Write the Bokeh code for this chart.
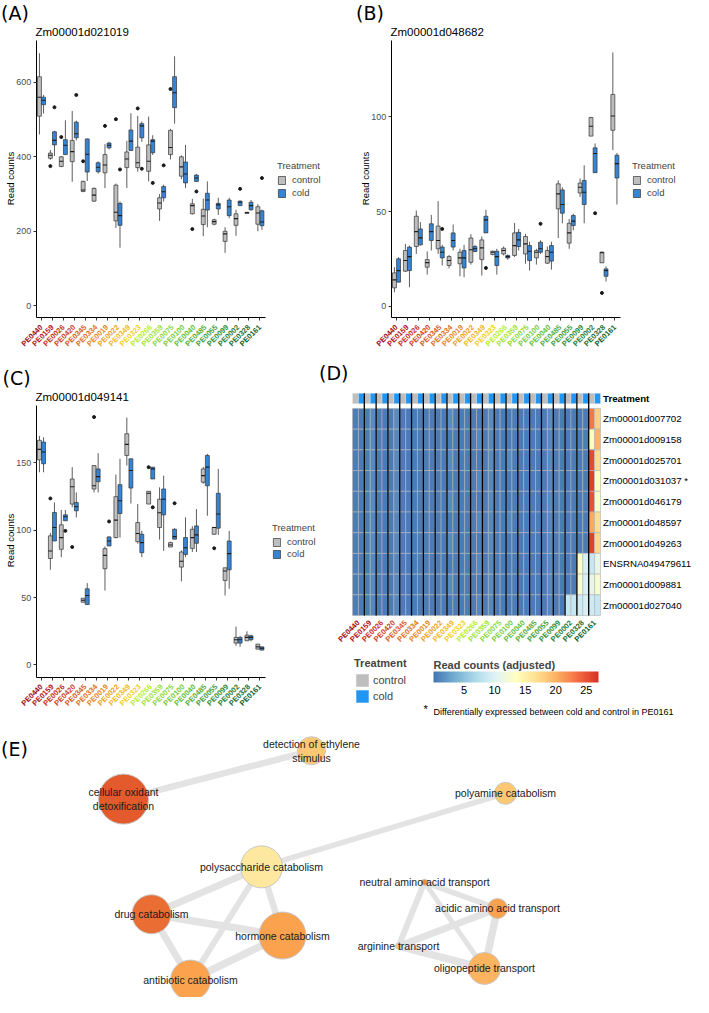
import math
from bokeh.plotting import figure
from bokeh.layouts import column, row
from bokeh.models import (Range1d, FixedTicker, Legend, LegendItem, ColorBar,
                          LinearColorMapper, ColumnDataSource, CustomJSTickFormatter)
from bokeh.core.properties import value
from bokeh.embed import file_html
from bokeh.resources import INLINE

# ------------------------------------------------------------------ data
GENOTYPES = ["PE0440", "PE0159", "PE0026", "PE0420", "PE0345", "PE0334", "PE0019",
             "PE0022", "PE0349", "PE0323", "PE0266", "PE0359", "PE0075", "PE0100",
             "PE0040", "PE0485", "PE0055", "PE0099", "PE0002", "PE0328", "PE0161"]
TREATMENTS = ["control", "cold"]

# box statistics per genotype: (lower whisker, Q1, median, Q3, upper whisker)
A_GENE = "Zm00001d021019"
A_CONTROL = [(460, 509, 560, 615, 678), (392, 396, 404, 410, 418), (372, 374, 388, 400, 402),
             (333, 387, 414, 444, 523), (305, 307, 311, 334, 336), (279, 281, 297, 315, 318),
             (316, 357, 378, 406, 434), (209, 228, 251, 324, 328), (316, 371, 394, 413, 443),
             (360, 371, 384, 426, 510), (334, 361, 388, 432, 508), (228, 260, 276, 290, 300),
             (393, 406, 425, 471, 475), (340, 348, 373, 400, 404), (245, 247, 269, 274, 287),
             (187, 218, 241, 259, 288), (216, 219, 226, 231, 234), (142, 173, 193, 200, 211),
             (188, 216, 234, 247, 258), (248, 248, 250, 251, 252), (200, 219, 249, 266, 273)]
A_COLD = [(516, 540, 552, 560, 566), (402, 432, 444, 467, 470), (405, 406, 431, 446, 498),
          (444, 451, 462, 493, 497), (335, 359, 407, 448, 449), (355, 360, 372, 384, 388),
          (420, 424, 431, 437, 440), (156, 216, 242, 275, 280), (417, 417, 442, 472, 517),
          (440, 451, 483, 489, 495), (405, 411, 442, 446, 458), (280, 290, 306, 320, 325),
          (489, 532, 572, 615, 670), (316, 330, 354, 386, 432), (334, 334, 343, 351, 354),
          (211, 257, 284, 302, 334), (244, 260, 271, 275, 290), (235, 242, 266, 284, 290),
          (269, 269, 278, 281, 283), (255, 258, 269, 278, 284), (204, 215, 225, 255, 258)]
A_CONTROL_OUT = [(2, 375), (3, 453), (5, 388), (7, 483), (8, 501), (10, 530), (13, 582), (15, 206)]
A_COLD_OUT = [(2, 533), (4, 566), (8, 366), (10, 368), (11, 330), (12, 377), (15, 307), (19, 314), (21, 343)]
A_YTICKS = [0, 200, 400, 600]

B_GENE = "Zm00001d048682"
B_CONTROL = [(7.4, 9.7, 13.9, 17.6, 20.6), (18, 18.5, 24.1, 29.4, 32.9), (27.6, 31.5, 39.4, 47.5, 50.5),
             (16.7, 20.6, 23, 24.6, 28.9), (27.6, 30.3, 34.7, 42.3, 55.5), (20, 21.5, 24.1, 26.2, 27),
             (15.8, 22.4, 25.5, 28.5, 30.3), (22, 23.2, 29.8, 36, 38), (16.2, 24.6, 30.8, 35, 36.8),
             (26.8, 27.3, 28.5, 29, 29.4), (26.8, 27.6, 29.4, 30.6, 31.5), (26, 26.8, 32, 38.7, 44),
             (22.4, 27.6, 32.9, 36.8, 38.2), (22, 25.5, 28.5, 29.4, 30.3), (22.4, 22.7, 26.2, 29.4, 31.5),
             (36, 51.4, 59.3, 64.6, 66.4), (30.3, 33.3, 38.7, 43.8, 46), (57.7, 59.8, 62.8, 65, 67.4),
             (89.8, 89.8, 95, 99.6, 100), (22.9, 22.9, 28.2, 28.5, 29), (82.4, 92.9, 100.4, 111.8, 134)]
B_COLD = [(12.7, 12.7, 18.8, 25, 25.9), (10, 18.8, 26.2, 31.2, 32), (32, 32.4, 36.1, 40.8, 44.4),
          (29.4, 34.7, 39.4, 43.5, 48.2), (21.5, 25.5, 28.5, 31.2, 32.4), (29.4, 31.2, 34.7, 38.7, 43.1),
          (15.3, 20.2, 25.5, 29.4, 32.4), (28.5, 28.9, 30.3, 31.5, 32.4), (38.7, 38.7, 45.6, 47.5, 50.9),
          (16.7, 21.5, 26.2, 29, 30.3), (24.5, 25.5, 26.2, 26.8, 27.3), (29.4, 31.5, 35, 39, 40.8),
          (18.8, 24.1, 29, 32, 34), (27.6, 28.5, 30.3, 33.8, 34.7), (19.3, 23.8, 28.5, 32, 34),
          (43.8, 49.1, 53.7, 61.4, 62.8), (40, 42.6, 44.9, 47.9, 48.8), (43.8, 53.7, 60.2, 66.4, 74.4),
          (70.5, 70.5, 80.6, 83.6, 85.9), (13, 15.8, 18.8, 19.7, 21), (53.7, 67.7, 75.3, 79.7, 80.9)]
B_CONTROL_OUT = [(20, 7)]
B_COLD_OUT = [(5, 40.8), (9, 20.2), (14, 43.5), (19, 49.1)]
B_YTICKS = [0, 50, 100]

C_GENE = "Zm00001d049141"
C_CONTROL = [(143, 152.2, 160, 166.7, 170), (70.6, 79, 84.6, 95.8, 98), (80, 85.8, 94.5, 104, 115),
             (117, 119.4, 132.3, 138, 146.8), (46.5, 46.5, 48, 49.5, 49.5), (128, 130.6, 133, 148, 148),
             (55.2, 71.4, 81.3, 86.3, 88), (94, 94.5, 107.5, 124.9, 141.3), (148, 155.5, 163.7, 171.6, 183.6),
             (90, 91.5, 97.5, 105.7, 119.4), (119.4, 119.4, 127.4, 128.9, 128.9), (93, 102, 113, 123, 131.8),
             (87.5, 87.5, 89, 90.8, 91.5), (62, 72.6, 77, 83.8, 85), (83.8, 86.5, 94.5, 100.7, 103),
             (134.5, 135.6, 140.5, 145.5, 147), (96.5, 97, 102, 102, 102.5), (51.5, 62.7, 69.7, 72.1, 72.1),
             (14.2, 16.2, 18.7, 20.4, 28.4), (17.9, 17.9, 20.4, 22.1, 25), (11.7, 11.7, 13.4, 15.4, 15.4)]
C_COLD = [(143, 149.3, 158, 165.4, 169), (92, 92, 102, 113.2, 120.6), (107, 107, 110, 111.4, 115),
          (109.5, 114.4, 117.4, 120.6, 128), (44.8, 44.8, 51.5, 56.5, 60.7), (128, 136, 139.8, 145.5, 157.2),
          (88.3, 88.3, 92, 95, 95.5), (94.5, 112.4, 121.9, 133.8, 153), (119.9, 131.3, 144.3, 153, 153),
          (80, 83.3, 90.8, 97, 99.5), (138, 138, 145.5, 146.8, 146.8), (84.6, 111.4, 123, 130.6, 140.5),
          (93.3, 93.3, 95.2, 100.7, 101.5), (80, 82, 87, 94.5, 109.5), (83.8, 90.3, 96.5, 103.2, 115.7),
          (110.7, 133, 146.8, 155.5, 156.7), (96.5, 101.5, 112, 127.4, 145.5), (56.5, 70.6, 82.6, 92, 99.5),
          (13.5, 16.2, 18.7, 20.4, 21.5), (17.5, 18.7, 20.4, 21.6, 22.5), (10.8, 11, 12.4, 13.4, 13.4)]
C_CONTROL_OUT = [(2, 123.6), (4, 87.5), (6, 184), (11, 146.8), (17, 86.6)]
C_COLD_OUT = [(3, 99.5), (7, 106.5), (11, 117), (13, 120)]
C_YTICKS = [0, 50, 100, 150]

# heatmap: adjusted read counts, columns = genotype x (control, cold)
HEAT_GENES = ["Zm00001d007702", "Zm00001d009158", "Zm00001d025701", "Zm00001d031037 *",
              "Zm00001d046179", "Zm00001d048597", "Zm00001d049263", "ENSRNA049479611",
              "Zm00001d009881", "Zm00001d027040"]
HEAT_007702 = [.5, .5, .5, 1.4, .5, .5, .5, 1.4, .5, .5, .5, .5, .5, .5, .5, .5, 1.4, .5, .5, .5, .5,
               .5, .5, 1.4, .5, .5, .5, .5, .5, .5, .5, .5, .5, 1.4, .5, .5, .5, .5, .5, .5, 23, 18]
HEAT_009158 = [.5, .5, .5, 1.2, .5, .5, .5, 1.2, .5, .5, .5, .5, .5, .5, .5, .5, .5, .5, .5, .5, .5,
               1.2, .5, 1.2, .5, .5, .5, .5, .5, .5, .5, .5, .5, 1.2, .5, .5, .5, .5, .5, .5, 13.5, 20]
HEAT_025701 = [.5, .5, .5, 1.3, .5, .5, .5, 1.3, .5, .5, .5, .5, .5, .5, .5, .5, 1.3, .5, .5, .5, .5,
               .5, .5, 1.3, .5, .5, 1.3, .5, .5, .5, .5, .5, .5, 1.3, .5, .5, .5, .5, .5, .5, 25.5, 17]
HEAT_031037 = [.5, .5, .5, 1.2, .5, .5, .5, 1.2, .5, .5, .5, .5, .5, .5, .5, .5, .5, .5, .5, .5, .5,
               1.2, .5, 1.2, .5, .5, .5, .5, .5, .5, .5, .5, .5, 1.2, .5, .5, .5, .5, .5, .5, 26, 13.5]
HEAT_046179 = [.5, .5, .5, 1.3, .5, .5, .5, 1.3, .5, .5, .5, .5, .5, .5, .5, .5, 1.3, .5, .5, .5, .5,
               .5, .5, 1.3, .5, .5, .5, .5, .5, .5, .5, .5, .5, 1.3, .5, .5, .5, .5, .5, .5, 25, 13]
HEAT_048597 = [.5, .5, .5, 1.2, .5, .5, .5, 1.2, .5, .5, .5, .5, .5, .5, .5, .5, .5, .5, .5, .5, .5,
               1.2, .5, 1.2, .5, .5, 1.2, .5, .5, .5, .5, .5, .5, 1.2, .5, .5, .5, .5, .5, .5, 20.5, 17]
HEAT_049263 = [.5, .5, .5, 1.3, .5, .5, .5, 1.3, .5, .5, .5, .5, .5, .5, .5, .5, 1.3, .5, .5, .5, .5,
               .5, .5, 1.3, .5, .5, .5, .5, .5, .5, .5, .5, .5, 1.3, .5, .5, .5, .5, .5, .5, 26, 17.5]
HEAT_ENSRNA = [.5, .5, .5, 1.2, .5, .5, .5, 1.2, .5, .5, .5, .5, .5, .5, .5, .5, .5, .5, .5, .5, .5,
               1.2, .5, 1.2, .5, .5, .5, .5, .5, .5, .5, .5, .5, 1.2, .5, .5, .5, .5, 13, 9.5, 8.5, 11]
HEAT_009881 = [.5, .5, .5, 1.3, .5, .5, .5, 1.3, .5, .5, .5, .5, .5, .5, .5, .5, 1.3, .5, .5, .5, .5,
               .5, .5, 1.3, .5, .5, .5, .5, .5, .5, .5, .5, .5, 1.3, .5, .5, .5, .5, 12.5, 9.5, 11, 12.5]
HEAT_027040 = [.5, .5, .5, 1.2, .5, .5, .5, 1.2, .5, .5, .5, .5, .5, .5, .5, .5, .5, .5, .5, .5, .5,
               1.2, .5, 1.2, .5, .5, .5, .5, .5, .5, .5, .5, .5, 1.2, .5, .5, 8.5, 8.5, 9, 9.5, 9, 8.5]
HEAT_ROWS = [HEAT_007702, HEAT_009158, HEAT_025701, HEAT_031037, HEAT_046179,
             HEAT_048597, HEAT_049263, HEAT_ENSRNA, HEAT_009881, HEAT_027040]
HEAT_TICKS = [5, 10, 15, 20, 25]
HEAT_NOTE = "Differentially expressed between cold and control in PE0161"

# enrichment network
TERMS = ["detection of ethylene\nstimulus", "cellular oxidant\ndetoxification", "polyamine catabolism",
         "polysaccharide catabolism", "neutral amino acid transport", "acidic amino acid transport",
         "drug catabolism", "hormone catabolism", "arginine transport", "oligopeptide transport",
         "antibiotic catabolism"]
TERM_SCORE = [0.25, 0.95, 0.25, 0.0, 0.7, 0.5, 0.85, 0.5, 0.25, 0.38, 0.5]
EDGES = [(0, 1), (3, 2), (3, 6), (3, 7), (3, 10), (6, 7), (6, 10), (7, 10),
         (4, 5), (4, 8), (4, 9), (5, 8), (5, 9), (8, 9)]
EDGE_SIM = [0.65, 0.55, 0.7, 0.65, 0.6, 0.75, 0.7, 0.75, 0.55, 0.6, 0.5, 0.7, 0.75, 0.75]

# ------------------------------------------------------------------ layout / style
NODE_X = [311, 123, 505, 261, 424, 497, 151, 282, 398, 484, 190]
NODE_Y = [757, 807, 801, 877, 893, 920, 926, 948, 959, 982, 994]
NODE_R = [14, 25, 11, 21, 3, 10, 19.5, 23.5, 3, 16, 20]

LABEL_COLORS = ["#9b0d0d", "#b5141a", "#c62d1e", "#d1431f", "#d95a1f", "#df7120", "#e6881f",
                "#eca11f", "#f1b91e", "#f4d01c", "#b7ef2b", "#a0e43a", "#8ad93d", "#76cd3d",
                "#63bf3d", "#53ae3c", "#44a03b", "#359038", "#278034", "#1b7031", "#0e5f2d"]
BOX_FILL = ["#bebebe", "#3585d6"]
BAR_FILL = ["#bebebe", "#2196f3"]
FONT = "Liberation Sans"
LETTER_FONT = "DejaVu Sans"
BOX_W = 0.36
DODGE = 0.1875


def interp_palette(stops, n=256):
    def h2r(h):
        h = h.lstrip("#")
        return [int(h[i:i + 2], 16) for i in (0, 2, 4)]
    rgb = [h2r(s) for s in stops]
    out = []
    for k in range(n):
        t = k / (n - 1) * (len(rgb) - 1)
        i = min(int(t), len(rgb) - 2)
        f = t - i
        c = [round(rgb[i][j] + (rgb[i + 1][j] - rgb[i][j]) * f) for j in range(3)]
        out.append("#%02x%02x%02x" % tuple(c))
    return out


HEAT_PALETTE = interp_palette(["#4575b4", "#74add1", "#abd9e9", "#e0f3f8", "#ffffbf",
                               "#fee090", "#fdae61", "#f46d43", "#d73027"])
NODE_PALETTE = interp_palette(["#fee79e", "#fdc874", "#fba24e", "#f0803a", "#e0512a"])


def txt(p, x, y, s, size, align="left", baseline="middle", color="black", font=FONT,
        style="normal", angle=0):
    p.text(x=x, y=y, text=s, text_font=value(font), text_font_size=size, text_align=align,
           text_baseline=baseline, text_color=color, text_font_style=style, angle=angle)


def box_panel(letter, gene, control, cold, control_out, cold_out, yticks, g):
    step = g["step"]

    def X(rx):
        return 1 + (rx - g["tick1"]) / step

    def Y(ry):
        return (g["yzero"] - ry) / g["ppu"]

    p = figure(width=g["w"], height=g["h"],
               x_range=Range1d(X(g["left"]), X(g["left"] + g["w"])),
               y_range=Range1d(Y(g["top"] + g["h"]), Y(g["top"])),
               toolbar_location=None, output_backend="svg", min_border=0,
               outline_line_color=None)
    p.title.visible = False
    p.grid.visible = False
    xa, ya = p.xaxis[0], p.yaxis[0]
    xa.fixed_location = Y(g["axis_bottom"])
    ya.fixed_location = X(g["axis_left"])
    xa.bounds = (X(g["axis_left"]), X(g["axis_right"]))
    ya.bounds = (Y(g["axis_bottom"]), Y(g["axis_top"]))
    xa.ticker = FixedTicker(ticks=list(range(1, len(GENOTYPES) + 1)))
    xa.formatter = CustomJSTickFormatter(code="return ''")
    ya.ticker = FixedTicker(ticks=yticks)
    for ax in (xa, ya):
        ax.axis_line_color = "black"
        ax.axis_line_width = 1
        ax.major_tick_line_color = "#333333"
        ax.major_tick_out = 3
        ax.major_tick_in = 0
        ax.minor_tick_line_color = None
    ya.major_label_text_font = FONT
    ya.major_label_text_font_size = "9px"
    ya.major_label_text_color = "#4d4d4d"
    ya.major_label_standoff = 2

    rends = []
    for k, (stats, outs) in enumerate(((control, control_out), (cold, cold_out))):
        off = -DODGE if k == 0 else DODGE
        xs = [i + 1 + off for i in range(len(stats))]
        lw = [s[0] for s in stats]
        q1 = [s[1] for s in stats]
        md = [s[2] for s in stats]
        q3 = [s[3] for s in stats]
        uw = [s[4] for s in stats]
        p.segment(x0=xs, y0=lw, x1=xs, y1=uw, line_color="#333333", line_width=0.8)
        r = p.vbar(x=xs, width=BOX_W, bottom=q1, top=q3, fill_color=BOX_FILL[k],
                   line_color="#333333", line_width=0.7)
        p.segment(x0=[x - BOX_W / 2 for x in xs], y0=md, x1=[x + BOX_W / 2 for x in xs], y1=md,
                  line_color="#1a1a1a", line_width=1.1)
        if outs:
            p.scatter(x=[o[0] + off for o in outs], y=[o[1] for o in outs], size=3,
                      marker="circle", color="#1a1a1a")
        rends.append(r)

    txt(p, list(range(1, len(GENOTYPES) + 1)), [Y(g["axis_bottom"] + 8.5)] * len(GENOTYPES),
        GENOTYPES, "7.5px", align="right", baseline="middle", color=LABEL_COLORS,
        style="bold", angle=math.pi / 4)
    txt(p, [X(g["title"][0])], [Y(g["title"][1])], [gene], "11.5px")
    txt(p, [X(g["letter"][0])], [Y(g["letter"][1])], [letter], "19px", baseline="top",
        font=LETTER_FONT)
    txt(p, [X(g["ylabel"][0])], [Y(g["ylabel"][1])], ["Read counts"], "9.5px", align="center",
        angle=math.pi / 2)

    leg = Legend(items=[LegendItem(label=TREATMENTS[0], renderers=[rends[0]]),
                        LegendItem(label=TREATMENTS[1], renderers=[rends[1]])],
                 location=(g["legend"][0] - g["left"], g["h"] - (g["legend"][1] - g["top"])),
                 title="Treatment", title_text_font=FONT, title_text_font_size="9.5px",
                 title_text_font_style="normal", title_standoff=3,
                 label_text_font=FONT, label_text_font_size="9.5px",
                 glyph_width=9, glyph_height=10, label_height=10, label_width=10,
                 spacing=g["legend_spacing"], padding=0, margin=0, label_standoff=6,
                 border_line_color=None, background_fill_alpha=0)
    p.add_layout(leg)
    return p


# panel geometry in page pixels (legend = left x, bottom y)
GEOM_A = dict(w=355, h=355, left=0, top=0, tick1=41.0, step=10.92, yzero=305.3, ppu=0.3725,
              axis_bottom=317, axis_top=40, axis_left=35.7, axis_right=265,
              legend=(277, 198), legend_spacing=2, title=(35, 31), letter=(0.5, 1),
              ylabel=(10, 178))
GEOM_B = dict(w=338, h=355, left=355, top=0, tick1=396.0, step=10.92, yzero=305.7, ppu=1.894,
              axis_bottom=317, axis_top=40, axis_left=390.7, axis_right=620,
              legend=(632, 198), legend_spacing=2, title=(390, 31), letter=(355.5, 1),
              ylabel=(365, 178))
GEOM_C = dict(w=318, h=372, left=0, top=355, tick1=41.0, step=10.92, yzero=664.4, ppu=1.347,
              axis_bottom=676.5, axis_top=405, axis_left=35.7, axis_right=265,
              legend=(272, 559), legend_spacing=1, title=(35, 396), letter=(2, 366),
              ylabel=(10, 540))

pA = box_panel("(A)", A_GENE, A_CONTROL, A_COLD, A_CONTROL_OUT, A_COLD_OUT, A_YTICKS, GEOM_A)
pB = box_panel("(B)", B_GENE, B_CONTROL, B_COLD, B_CONTROL_OUT, B_COLD_OUT, B_YTICKS, GEOM_B)
pC = box_panel("(C)", C_GENE, C_CONTROL, C_COLD, C_CONTROL_OUT, C_COLD_OUT, C_YTICKS, GEOM_C)

# ------------------------------------------------------------------ panel D heatmap
D_W, D_H, D_LEFT, D_TOP = 375, 372, 318, 355
HM_LEFT, HM_RIGHT = 352, 600
CW = (HM_RIGHT - HM_LEFT) / 42.0
RH = 20.71


def HX(rx):
    return (rx - HM_LEFT) / CW


def HY(ry):
    return (ry - 418.3) / RH


pD = figure(width=D_W, height=D_H, x_range=Range1d(HX(D_LEFT), HX(D_LEFT + D_W)),
            y_range=Range1d(HY(D_TOP + D_H), HY(D_TOP)), x_axis_type=None, y_axis_type=None,
            toolbar_location=None, output_backend="svg", min_border=0, outline_line_color=None)
pD.title.visible = False
pD.grid.visible = False

mapper = LinearColorMapper(palette=HEAT_PALETTE, low=0, high=27)
hx, hy, hv = [], [], []
for r, rowv in enumerate(HEAT_ROWS):
    for c, v in enumerate(rowv):
        hx.append(c + 0.5)
        hy.append(r)
        hv.append(v)
pD.rect(x="x", y="y", width=1, height=1, source=ColumnDataSource(dict(x=hx, y=hy, v=hv)),
        fill_color={"field": "v", "transform": mapper}, line_color="#b3b3b3", line_width=0.6)

ncol = 2 * len(GENOTYPES)
BAR_Y = HY(398)
BAR_H = 10.3 / RH
bar = pD.rect(x=[c + 0.5 for c in range(ncol)], y=[BAR_Y] * ncol, width=1, height=BAR_H,
              fill_color=[BAR_FILL[c % 2] for c in range(ncol)], line_color="#eeeeee",
              line_width=0.4)
ng = len(GENOTYPES)
pD.segment(x0=[2 * g for g in range(1, ng)], x1=[2 * g for g in range(1, ng)],
           y0=[BAR_Y - BAR_H / 2] * (ng - 1), y1=[len(HEAT_GENES) - 0.5] * (ng - 1),
           line_color="black", line_width=1.3)

txt(pD, [HX(602.5)] * len(HEAT_GENES), list(range(len(HEAT_GENES))), HEAT_GENES, "9.7px")
txt(pD, [HX(602.5)], [BAR_Y], ["Treatment"], "9.7px", style="bold")
txt(pD, [2 * g + 1 for g in range(ng)], [HY(621)] * ng, GENOTYPES,
    "7.5px", align="right", color=LABEL_COLORS, style="bold", angle=math.pi / 4)
txt(pD, [HX(D_LEFT + 0.5)], [HY(361)], ["(D)"], "19px", baseline="top", font=LETTER_FONT)
txt(pD, [HX(423)], [HY(708)], ["*"], "11px")
txt(pD, [HX(433)], [HY(711)], [HEAT_NOTE], "9px")

dleg = Legend(items=[LegendItem(label=TREATMENTS[0], renderers=[bar], index=0),
                     LegendItem(label=TREATMENTS[1], renderers=[bar], index=1)],
              location=(354 - D_LEFT, D_H - (704 - D_TOP)),
              title="Treatment", title_text_font=FONT, title_text_font_size="11px",
              title_text_font_style="bold", title_standoff=3,
              label_text_font=FONT, label_text_font_size="11px",
              glyph_width=16, glyph_height=16, label_height=16, spacing=0, padding=0, margin=0,
              label_standoff=3, border_line_color=None, background_fill_alpha=0)
pD.add_layout(dleg)

cbar = ColorBar(color_mapper=mapper, orientation="horizontal", width=165, height=11,
                location=(433 - D_LEFT, D_H - (696 - D_TOP)),
                title="Read counts (adjusted)", title_text_font=FONT, title_text_font_size="11px",
                title_text_font_style="bold", title_standoff=2,
                ticker=FixedTicker(ticks=HEAT_TICKS), major_label_text_font=FONT,
                major_label_text_font_size="11px", major_label_text_color="black",
                label_standoff=3, major_tick_line_color=None, bar_line_color=None,
                padding=0, margin=0, background_fill_alpha=0, border_line_color=None)
pD.add_layout(cbar)

# ------------------------------------------------------------------ panel E network
E_TOP, E_H = 727, 270
E_Y0, E_Y1 = 733, 1012
pE = figure(width=693, height=E_H, x_range=Range1d(0, 693), y_range=Range1d(E_Y1, E_Y0),
            x_axis_type=None, y_axis_type=None, toolbar_location=None, output_backend="svg",
            min_border=0, outline_line_color=None)
pE.title.visible = False
pE.grid.visible = False
pE.segment(x0=[NODE_X[a] for a, b in EDGES], y0=[NODE_Y[a] for a, b in EDGES],
           x1=[NODE_X[b] for a, b in EDGES], y1=[NODE_Y[b] for a, b in EDGES],
           line_color="#e3e3e3", line_width=[10 * w for w in EDGE_SIM])
nmap = LinearColorMapper(palette=NODE_PALETTE, low=0, high=1)
pE.scatter(x="x", y="y", size="s", source=ColumnDataSource(dict(
    x=NODE_X, y=NODE_Y, s=[2 * r for r in NODE_R], v=TERM_SCORE)),
    fill_color={"field": "v", "transform": nmap}, line_color="#c8c8c8", line_width=1)
txt(pE, NODE_X, NODE_Y, TERMS, "10.5px", align="center", color="#1a1a1a")
e_scale = (E_Y1 - E_Y0) / E_H
txt(pE, [0.5], [E_Y0 + (737 - E_TOP) * e_scale], ["(E)"], "19px", baseline="top",
    font=LETTER_FONT)

layout = column(row(pA, pB), row(pC, pD), pE)
open("out.html", "w").write(file_html(layout, INLINE))
